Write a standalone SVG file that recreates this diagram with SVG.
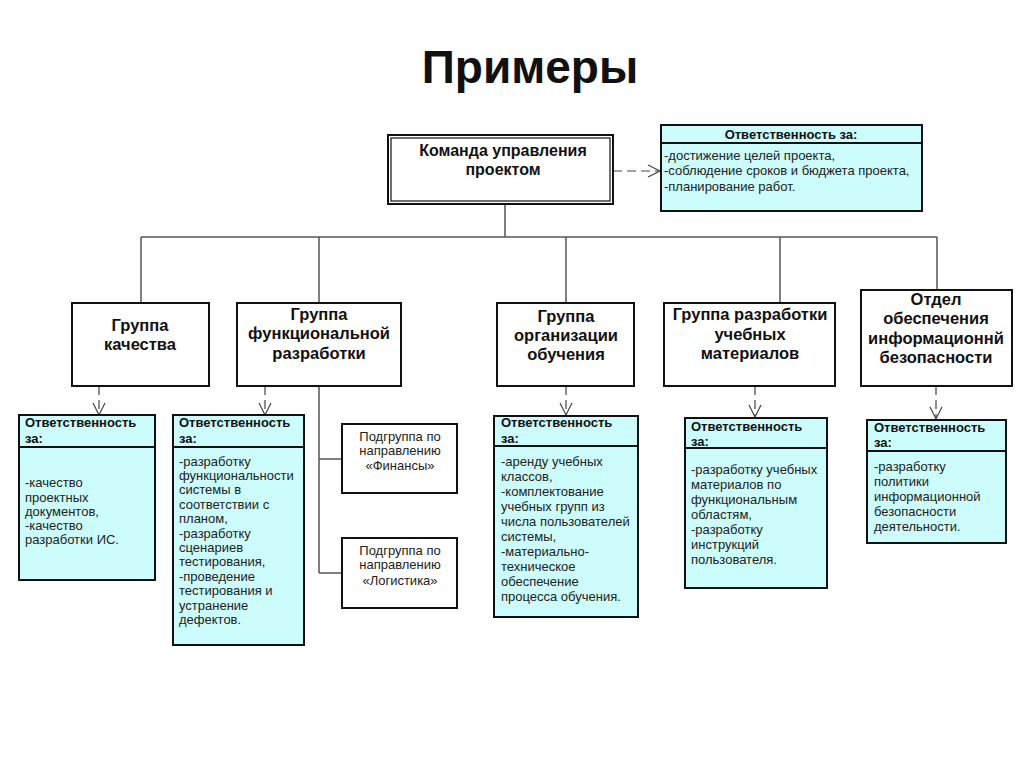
<svg xmlns="http://www.w3.org/2000/svg" width="1024" height="767" viewBox="0 0 1024 767">
<defs>
<marker id="open" markerWidth="16" markerHeight="16" refX="13" refY="7" orient="auto" markerUnits="userSpaceOnUse">
<path d="M1,1 L13,7 L1,13" fill="none" stroke="#444" stroke-width="1.2"/>
</marker>
</defs>
<style>
.bg{fill:#ffffff}
.box{fill:#ffffff;stroke:#111;stroke-width:2}
.resp{fill:#ccfcfc;stroke:#111;stroke-width:2}
.sep{stroke:#111;stroke-width:2}
.ln{fill:none;stroke:#555;stroke-width:1.5}
.dep{fill:none;stroke:#444;stroke-width:1.2;stroke-dasharray:9,5}
.title{font-family:"Liberation Sans",Arial,sans-serif;font-weight:bold;font-size:46px;fill:#111;text-anchor:middle}
.gt{font-family:"Liberation Sans",Arial,sans-serif;font-weight:bold;font-size:16.5px;fill:#111;text-anchor:middle}
.tt{font-family:"Liberation Sans",Arial,sans-serif;font-weight:bold;font-size:16px;fill:#111;text-anchor:middle}
.hd{font-family:"Liberation Sans",Arial,sans-serif;font-weight:bold;font-size:13px;fill:#111}
.bt{font-family:"Liberation Sans",Arial,sans-serif;font-size:13px;fill:#222}
.st{font-family:"Liberation Sans",Arial,sans-serif;font-size:13px;fill:#222;text-anchor:middle}
</style>
<rect class="bg" x="0" y="0" width="1024" height="767"/>
<text class="title" x="530" y="83">Примеры</text>

<g id="connectors">
<path class="ln" d="M505,204 V237 M141,237 H937 M141,237 V303 M319,237 V303 M566,237 V303 M780,237 V303 M937,237 V290"/>
<path class="ln" d="M319,386 V573 M319,459 H342 M319,573 H342"/>
<path class="dep" d="M613,171 H660" marker-end="url(#open)"/>
<path class="dep" d="M99,386 V415" marker-end="url(#open)"/>
<path class="dep" d="M265,386 V415" marker-end="url(#open)"/>
<path class="dep" d="M566,386 V415" marker-end="url(#open)"/>
<path class="dep" d="M755,386 V417" marker-end="url(#open)"/>
<path class="dep" d="M936,386 V419" marker-end="url(#open)"/>
</g>

<g id="top">
<rect class="box" x="388" y="135" width="225" height="69" stroke-width="1.5"/>
<rect x="391" y="138" width="219" height="63" fill="none" stroke="#111" stroke-width="1.2"/>
<text class="tt" x="503" y="156">Команда управления</text>
<text class="tt" x="503" y="175">проектом</text>
</g>

<g id="resp-top">
<rect class="resp" x="661" y="125" width="261" height="86" stroke-width="1.5"/>
<line class="sep" x1="661" y1="143" x2="922" y2="143" stroke-width="1.5"/>
<text class="hd" x="791" y="139" text-anchor="middle">Ответственность за:</text>
<text class="bt" x="664" y="160">-достижение целей проекта,</text>
<text class="bt" x="664" y="175">-соблюдение сроков и бюджета проекта,</text>
<text class="bt" x="664" y="191">-планирование работ.</text>
</g>

<g id="g1">
<rect class="box" x="72" y="303" width="137" height="83"/>
<text class="gt" x="140" y="331">Группа</text>
<text class="gt" x="140" y="350">качества</text>
</g>
<g id="g2">
<rect class="box" x="237" y="303" width="164" height="83"/>
<text class="gt" x="319" y="320">Группа</text>
<text class="gt" x="319" y="339">функциональной</text>
<text class="gt" x="319" y="359">разработки</text>
</g>
<g id="g3">
<rect class="box" x="497" y="303" width="137" height="83"/>
<text class="gt" x="566" y="322">Группа</text>
<text class="gt" x="566" y="341">организации</text>
<text class="gt" x="566" y="360">обучения</text>
</g>
<g id="g4">
<rect class="box" x="664" y="303" width="171" height="83"/>
<text class="gt" x="750" y="320">Группа разработки</text>
<text class="gt" x="750" y="340">учебных</text>
<text class="gt" x="750" y="359">материалов</text>
</g>
<g id="g5">
<rect class="box" x="861" y="290" width="151" height="96"/>
<text class="gt" x="936" y="305">Отдел</text>
<text class="gt" x="936" y="324">обеспечения</text>
<text class="gt" x="936" y="344">информационнй</text>
<text class="gt" x="936" y="363">безопасности</text>
</g>

<g id="sub1">
<rect class="box" x="342" y="424" width="115" height="69"/>
<text class="st" x="400" y="441">Подгруппа по</text>
<text class="st" x="400" y="455">направлению</text>
<text class="st" x="400" y="470">«Финансы»</text>
</g>
<g id="sub2">
<rect class="box" x="342" y="538" width="115" height="70"/>
<text class="st" x="400" y="555">Подгруппа по</text>
<text class="st" x="400" y="569">направлению</text>
<text class="st" x="400" y="585">«Логистика»</text>
</g>

<g id="r1">
<rect class="resp" x="19" y="415" width="136" height="165"/>
<line class="sep" x1="19" y1="447" x2="155" y2="447"/>
<text class="hd" x="25" y="427">Ответственность</text>
<text class="hd" x="25" y="443">за:</text>
<text class="bt" x="25" y="487">-качество</text>
<text class="bt" x="25" y="502">проектных</text>
<text class="bt" x="25" y="516">документов,</text>
<text class="bt" x="25" y="530">-качество</text>
<text class="bt" x="25" y="544">разработки ИС.</text>
</g>

<g id="r2">
<rect class="resp" x="173" y="415" width="131" height="230"/>
<line class="sep" x1="173" y1="447" x2="304" y2="447"/>
<text class="hd" x="179" y="427">Ответственность</text>
<text class="hd" x="179" y="443">за:</text>
<text class="bt" x="179" y="466">-разработку</text>
<text class="bt" x="179" y="480">функциональности</text>
<text class="bt" x="179" y="494">системы в</text>
<text class="bt" x="179" y="509">соответствии с</text>
<text class="bt" x="179" y="523">планом,</text>
<text class="bt" x="179" y="538">-разработку</text>
<text class="bt" x="179" y="552">сценариев</text>
<text class="bt" x="179" y="566">тестирования,</text>
<text class="bt" x="179" y="581">-проведение</text>
<text class="bt" x="179" y="595">тестирования и</text>
<text class="bt" x="179" y="610">устранение</text>
<text class="bt" x="179" y="624">дефектов.</text>
</g>

<g id="r3">
<rect class="resp" x="494" y="416" width="144" height="201"/>
<line class="sep" x1="494" y1="446" x2="638" y2="446"/>
<text class="hd" x="501" y="427">Ответственность</text>
<text class="hd" x="501" y="443">за:</text>
<text class="bt" x="501" y="466">-аренду учебных</text>
<text class="bt" x="501" y="481">классов,</text>
<text class="bt" x="501" y="496">-комплектование</text>
<text class="bt" x="501" y="511">учебных групп из</text>
<text class="bt" x="501" y="526">числа пользователей</text>
<text class="bt" x="501" y="541">системы,</text>
<text class="bt" x="501" y="556">-материально-</text>
<text class="bt" x="501" y="571">техническое</text>
<text class="bt" x="501" y="586">обеспечение</text>
<text class="bt" x="501" y="601">процесса обучения.</text>
</g>

<g id="r4">
<rect class="resp" x="685" y="418" width="142" height="170"/>
<line class="sep" x1="685" y1="448" x2="827" y2="448"/>
<text class="hd" x="691" y="431">Ответственность</text>
<text class="hd" x="691" y="446">за:</text>
<text class="bt" x="691" y="474">-разработку учебных</text>
<text class="bt" x="691" y="489">материалов по</text>
<text class="bt" x="691" y="504">функциональным</text>
<text class="bt" x="691" y="519">областям,</text>
<text class="bt" x="691" y="534">-разработку</text>
<text class="bt" x="691" y="549">инструкций</text>
<text class="bt" x="691" y="564">пользователя.</text>
</g>

<g id="r5">
<rect class="resp" x="867" y="420" width="139" height="123"/>
<line class="sep" x1="867" y1="451" x2="1006" y2="451"/>
<text class="hd" x="874" y="432">Ответственность</text>
<text class="hd" x="874" y="447">за:</text>
<text class="bt" x="874" y="471">-разработку</text>
<text class="bt" x="874" y="486">политики</text>
<text class="bt" x="874" y="501">информационной</text>
<text class="bt" x="874" y="516">безопасности</text>
<text class="bt" x="874" y="531">деятельности.</text>
</g>
</svg>
